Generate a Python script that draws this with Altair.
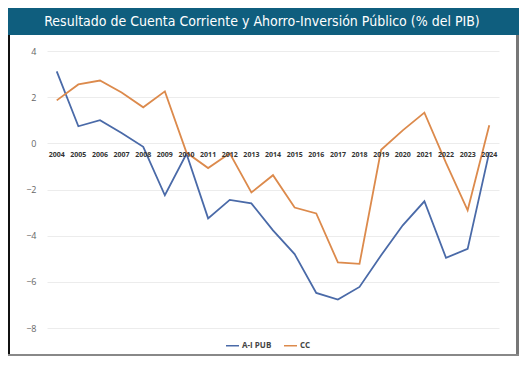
import altair as alt
import pandas as pd

years = list(range(2004, 2025))
ai_pub = [3.12, 0.74, 1.0, 0.45, -0.15, -2.25, -0.45, -3.25, -2.45, -2.6, -3.77,
          -4.8, -6.48, -6.77, -6.22, -4.85, -3.55, -2.51, -4.96, -4.57, -0.38]
cc = [1.86, 2.55, 2.72, 2.2, 1.56, 2.25, -0.4, -1.07, -0.43, -2.13, -1.38,
      -2.78, -3.04, -5.16, -5.22, -0.28, 0.56, 1.33, -0.85, -2.9, 0.78]
series_names = ["A-I PUB", "CC"]
series_colors = ["#4a6aa8", "#dc8a4c"]
title_text = "Resultado de Cuenta Corriente y Ahorro-Inversión Público (% del PIB)"
y_ticks = [4, 2, 0, -2, -4, -6, -8]

rows = []
for y, a, c in zip(years, ai_pub, cc):
    rows.append({"year": y, "serie": series_names[0], "value": a})
    rows.append({"year": y, "serie": series_names[1], "value": c})
df = pd.DataFrame(rows)
years_df = pd.DataFrame({"year": years})

W, H = 452, 277
PL, PT, PR, PB = 39, 43, 20, 28

xscale = alt.Scale(domain=[2003.55, 2024.45], nice=False, zero=False)
yscale = alt.Scale(domain=[-8, 4], nice=False)

lines = alt.Chart(df).mark_line(strokeWidth=1.8).encode(
    x=alt.X("year:Q", scale=xscale, axis=None),
    y=alt.Y("value:Q", scale=yscale,
            axis=alt.Axis(values=y_ticks, title=None, domain=False, ticks=False,
                          labelPadding=11, labelFont="Open Sans", labelFontSize=9,
                          labelColor="#666666", gridColor="#ececec", gridWidth=1)),
    color=alt.Color("serie:N", scale=alt.Scale(domain=series_names, range=series_colors),
                    legend=alt.Legend(title=None, orient="none", direction="horizontal",
                                      legendX=178, legendY=287, symbolType="stroke",
                                      symbolStrokeWidth=1.5, symbolSize=170,
                                      labelFont="Open Sans", labelFontSize=8,
                                      labelFontWeight="bold", labelColor="#444444",
                                      columnPadding=8, labelOffset=2)),
)

xlabels = alt.Chart(years_df).mark_text(
    font="Open Sans", fontSize=7, fontWeight="bold", color="#333333", dy=12, baseline="middle"
).encode(
    x=alt.X("year:Q", scale=xscale),
    y=alt.datum(0),
    text=alt.Text("year:Q", format="d"),
)

band = alt.Chart(years_df.head(1)).mark_rect(color="#0f5e7e").encode(
    x=alt.value(-PL), x2=alt.value(W + PR), y=alt.value(-PT), y2=alt.value(-16)
)
title = alt.Chart(years_df.head(1)).mark_text(
    text=title_text, font="DejaVu Sans Condensed, Roboto, sans-serif", fontSize=14,
    color="white", align="center", baseline="middle"
).encode(x=alt.value(215), y=alt.value(-29))

left_border = alt.Chart(years_df.head(1)).mark_rule(color="#111111", strokeWidth=2).encode(
    x=alt.value(-PL + 1), y=alt.value(-16), y2=alt.value(H + PB)
)
right_border = alt.Chart(years_df.head(1)).mark_rule(color="#777777", strokeWidth=3).encode(
    x=alt.value(W + PR - 1.5), y=alt.value(-16), y2=alt.value(H + PB)
)
bottom_border = alt.Chart(years_df.head(1)).mark_rule(color="#888888", strokeWidth=2).encode(
    x=alt.value(-PL), x2=alt.value(W + PR), y=alt.value(H + PB - 1)
)

chart = alt.layer(band, title, lines, xlabels, left_border, right_border, bottom_border).properties(
    width=W, height=H,
    padding={"left": PL, "top": PT, "right": PR, "bottom": PB},
    autosize=alt.AutoSizeParams(type="none"),
    background="white",
).configure_view(stroke=None)

chart.save("out.html", embed_options={"renderer": "svg", "actions": False})
